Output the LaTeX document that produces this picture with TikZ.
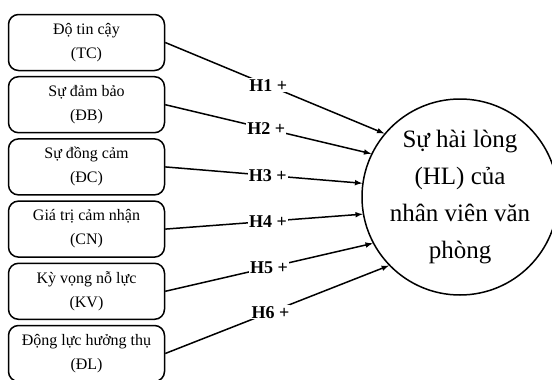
\documentclass[tikz,border=0pt]{standalone}
\usepackage{fontspec}
\setmainfont{Liberation Serif}
\usetikzlibrary{positioning, arrows}
\tikzset{
  factor/.style={
    draw, rounded corners=10pt, minimum width=156pt, minimum height=56pt,
    align=center, font=\fontsize{16}{24}\selectfont
  },
  outcome/.style={
    draw, circle, inner sep=0pt, minimum size=196pt,
    align=center, font=\fontsize{25}{37}\selectfont
  },
  hyp/.style={fill=white, inner sep=1pt, font=\bfseries\fontsize{18}{20}\selectfont},
  -latex, node distance=4.7pt
}

\begin{document}
\begin{tikzpicture}[x=1pt, y=-1pt, line width=1.5pt]
      \useasboundingbox (0,0) rectangle (552,380);
      \node[factor] (tc) at (86.5,42.5) {Độ tin cậy\\(TC)};
      \node[factor, below = of tc] (db) {Sự đảm bảo\\(ĐB)};
      \node[factor, below = of db] (dc) {Sự đồng cảm\\(ĐC)};
      \node[factor, below = of dc] (cn) {Giá trị cảm nhận\\(CN)};
      \node[factor, below = of cn] (kv) {Kỳ vọng nỗ lực\\(KV)};
      \node[factor, below = of kv] (dl) {Động lực hưởng thụ\\(ĐL)};
      \node[outcome] (hl) at (460,197) {Sự hài lòng\\(HL) của\\nhân viên văn\\phòng};

      \path (tc.east) edge node[hyp, pos=0.47] {H1 +} (hl.140)
            (db.east) edge node[hyp, pos=0.49] {H2 +} (hl.154)
            (dc.east) edge node[hyp, pos=0.52] {H3 +} (hl.172)
            (cn.east) edge node[hyp, pos=0.52] {H4 +} (hl.190)
            (kv.east) edge node[hyp, pos=0.50] {H5 +} (hl.208)
            (dl.east) edge node[hyp, pos=0.47] {H6 +} (hl.224);
    \end{tikzpicture}
\end{document}
